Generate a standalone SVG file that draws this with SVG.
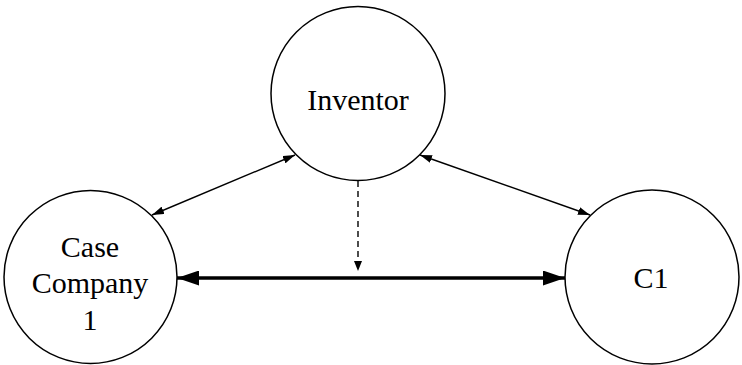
<svg xmlns="http://www.w3.org/2000/svg" width="742" height="365" viewBox="0 0 742 365">
<style>
.node{fill:#fff;stroke:#000;stroke-width:1.5}
.lbl{font-family:"Liberation Serif","Times New Roman",serif;font-size:30px;fill:#000;text-anchor:middle}
.thin{stroke:#000;stroke-width:1.4;fill:none}
.bold{stroke:#000;stroke-width:3.5;fill:none}
.dash{stroke:#000;stroke-width:1.4;fill:none;stroke-dasharray:6,4}
</style>
<defs>
<marker id="ah" viewBox="0 0 12 8" refX="12" refY="4" markerWidth="12" markerHeight="8" markerUnits="userSpaceOnUse" orient="auto-start-reverse"><path d="M0,0L12,4L0,8z" fill="#000"/></marker>
<marker id="ahb" viewBox="0 0 22 15" refX="22" refY="7.5" markerWidth="22" markerHeight="15" markerUnits="userSpaceOnUse" orient="auto-start-reverse"><path d="M0,0L22,7.5L0,15z" fill="#000"/></marker>
<marker id="ahd" viewBox="0 0 10 8" refX="10" refY="4" markerWidth="10" markerHeight="8" markerUnits="userSpaceOnUse" orient="auto"><path d="M0,0L10,4L0,8z" fill="#000"/></marker>
</defs>
<g id="connectors">
<line class="thin" x1="295" y1="155" x2="152" y2="215" marker-start="url(#ah)" marker-end="url(#ah)"/>
<line class="thin" x1="420" y1="155" x2="590" y2="215" marker-start="url(#ah)" marker-end="url(#ah)"/>
<line class="bold" x1="177" y1="278" x2="565" y2="278" marker-start="url(#ahb)" marker-end="url(#ahb)"/>
<line class="dash" x1="358" y1="181" x2="358" y2="271" marker-end="url(#ahd)"/>
</g>
<g id="inventor">
<circle class="node" cx="358" cy="93.5" r="87"/>
<text class="lbl" x="358" y="110">Inventor</text>
</g>
<g id="case-company-1">
<circle class="node" cx="90.5" cy="277" r="86.5"/>
<text class="lbl" x="90" y="257">Case</text>
<text class="lbl" x="90" y="293">Company</text>
<text class="lbl" x="90" y="330">1</text>
</g>
<g id="c1">
<circle class="node" cx="652" cy="277" r="87"/>
<text class="lbl" x="651" y="288">C1</text>
</g>
</svg>
